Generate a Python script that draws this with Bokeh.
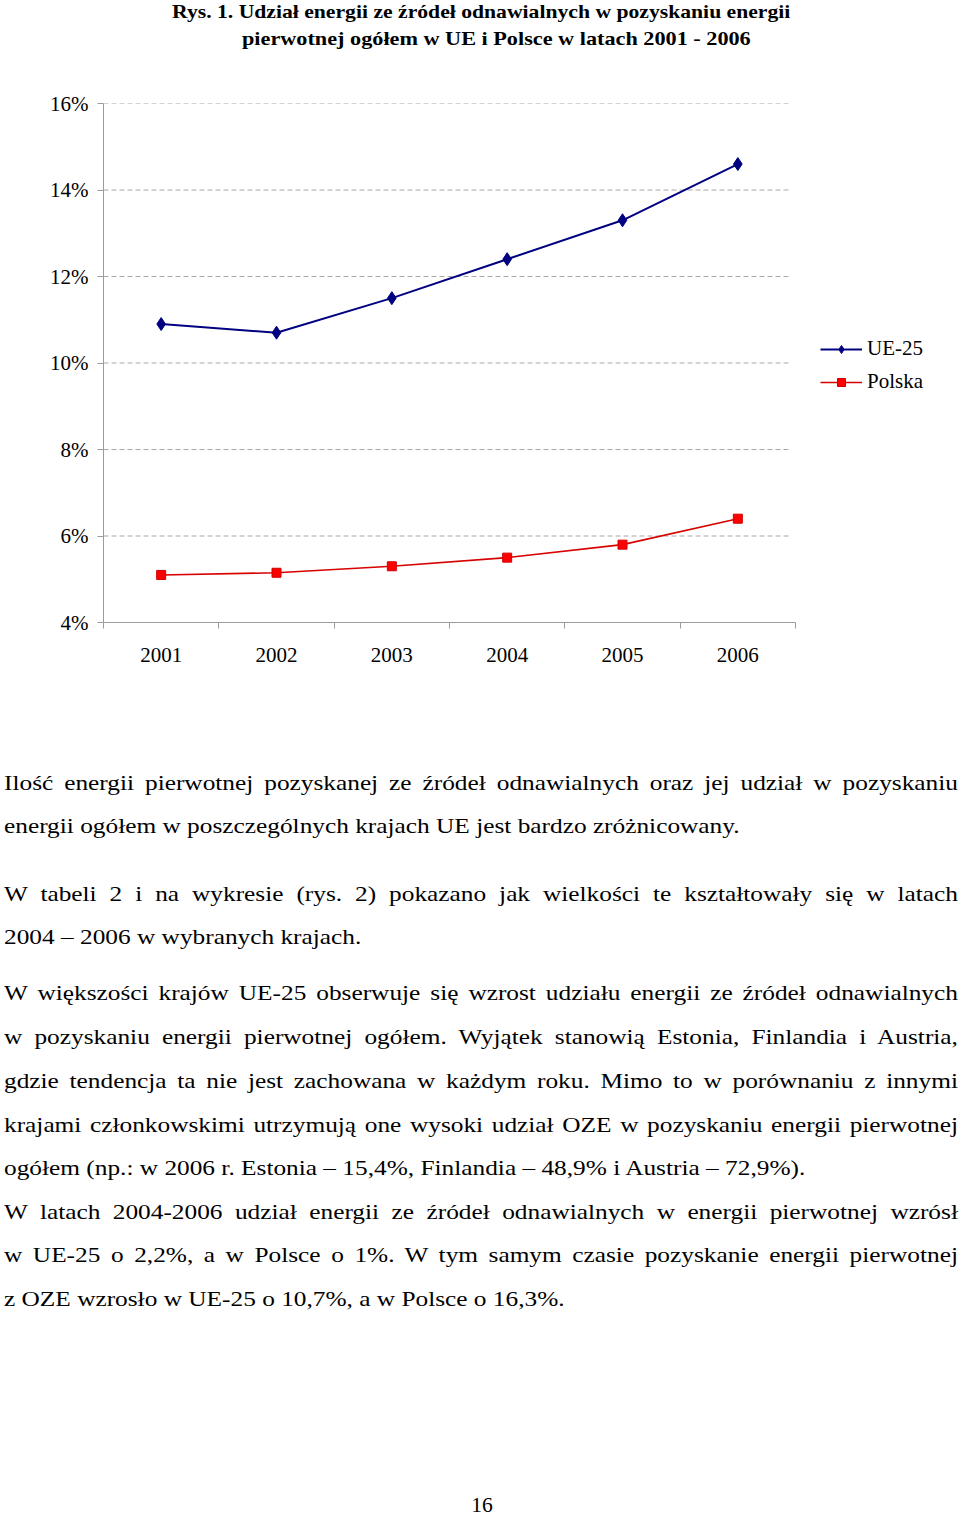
import math
from bokeh.plotting import figure
from bokeh.models import Range1d, FixedTicker, Legend, LegendItem, Div
from bokeh.layouts import column
from bokeh.embed import file_html
from bokeh.resources import INLINE

# ---------------- data ----------------
years = [2001, 2002, 2003, 2004, 2005, 2006]
year_labels = ["2001", "2002", "2003", "2004", "2005", "2006"]
ue25 = [10.9, 10.7, 11.5, 12.4, 13.3, 14.6]
polska = [5.1, 5.15, 5.3, 5.5, 5.8, 6.4]
y_ticks = [4, 6, 8, 10, 12, 14, 16]
y_tick_labels = ["4%", "6%", "8%", "10%", "12%", "14%", "16%"]
series_names = ["UE-25", "Polska"]

title_lines = [
    "Rys. 1. Udział energii ze źródeł odnawialnych w pozyskaniu energii",
    "pierwotnej ogółem w UE i Polsce w latach 2001 - 2006",
]
paragraph_lines = [
    "Ilość energii pierwotnej pozyskanej ze źródeł odnawialnych oraz jej udział w pozyskaniu",
    "energii ogółem w poszczególnych krajach UE jest bardzo zróżnicowany.",
    "W tabeli 2 i na wykresie (rys. 2) pokazano jak wielkości te kształtowały się w latach",
    "2004 – 2006 w wybranych krajach.",
    "W większości krajów UE-25 obserwuje się wzrost udziału energii ze źródeł odnawialnych",
    "w pozyskaniu energii pierwotnej ogółem. Wyjątek stanowią Estonia, Finlandia i Austria,",
    "gdzie tendencja ta nie jest zachowana w każdym roku. Mimo to w porównaniu z innymi",
    "krajami członkowskimi utrzymują one wysoki udział OZE w pozyskaniu energii pierwotnej",
    "ogółem (np.: w 2006 r. Estonia – 15,4%, Finlandia – 48,9% i Austria – 72,9%).",
    "W latach 2004-2006 udział energii ze źródeł odnawialnych w energii pierwotnej wzrósł",
    "w UE-25 o 2,2%, a w Polsce o 1%. W tym samym czasie pozyskanie energii pierwotnej",
    "z OZE wzrosło w UE-25 o 10,7%, a w Polsce o 16,3%.",
]
line_justified = [True, False, True, False, True, True, True, True, False, True, True, False]
page_number = "16"

# ---------------- layout constants ----------------
W = 960
TITLE_H = 75
FIG_H = 630
TEXT_H = 805
TEXT_TOP_PAGE = TITLE_H + FIG_H
line_baselines = [790, 833, 901, 944, 1000, 1044, 1088, 1132, 1175, 1219, 1262, 1306]
TEXT_LEFT = 4
TEXT_RIGHT = 958

SERIF = "'Liberation Serif', 'Times New Roman', serif"

# ---------------- title div ----------------
title_pos = [(172, 1, 1.14), (242, 28, 1.17)]
title_html = '<div style="position:relative;width:%dpx;height:%dpx;">' % (W, TITLE_H)
for txt, (lx, ty, sc) in zip(title_lines, title_pos):
    title_html += (
        '<div style="position:absolute;left:%dpx;top:%dpx;white-space:nowrap;'
        'font-family:%s;font-weight:bold;font-size:19px;line-height:22px;color:#000;'
        'transform:scaleX(%.3f);transform-origin:0 0;">%s</div>'
        % (lx, ty, SERIF, sc, txt)
    )
title_html += "</div>"
title_div = Div(text=title_html, width=W, height=TITLE_H, margin=(0, 0, 0, 0))

# ---------------- chart ----------------
FRAME_L, FRAME_R, FRAME_T, FRAME_B = 103, 795, 103, 622
x0 = years[0] - 0.5
x1 = years[-1] + 0.5
px_per_unit = (FRAME_R - FRAME_L) / (x1 - x0)
x_end = x0 + (W - FRAME_L) / px_per_unit   # frame extends to the canvas edge (room for legend)

p = figure(
    width=W, height=FIG_H,
    x_range=Range1d(x0, x_end),
    y_range=Range1d(y_ticks[0], y_ticks[-1]),
    output_backend="svg", toolbar_location=None, title=None,
    min_border_left=FRAME_L, min_border_right=0,
    min_border_top=FRAME_T - TITLE_H, min_border_bottom=TITLE_H + FIG_H - FRAME_B,
    outline_line_color=None, background_fill_color="white", border_fill_color="white",
    margin=(0, 0, 0, 0),
)

AX = "#9c9c9c"
xax = p.xaxis[0]
xax.ticker = FixedTicker(ticks=years, minor_ticks=[x0] + [y + 0.5 for y in years])
xax.bounds = (x0, x1)
xax.major_label_overrides = dict(zip(years, year_labels))
xax.major_tick_line_color = None
xax.major_tick_out = 6
xax.major_tick_in = 0
xax.minor_tick_out = 6
xax.minor_tick_in = 0
xax.minor_tick_line_color = AX
xax.axis_line_color = AX
xax.major_label_standoff = 19
xax.major_label_text_font = "Liberation Serif"
xax.major_label_text_font_size = "21px"
xax.major_label_text_color = "#000000"

yax = p.yaxis[0]
yax.ticker = FixedTicker(ticks=y_ticks)
yax.major_label_overrides = dict(zip(y_ticks, y_tick_labels))
yax.major_tick_out = 6
yax.major_tick_in = 0
yax.major_tick_line_color = AX
yax.minor_tick_line_color = None
yax.axis_line_color = AX
yax.major_label_standoff = 9
yax.major_label_text_font = "Liberation Serif"
yax.major_label_text_font_size = "21px"
yax.major_label_text_color = "#000000"

p.xgrid.visible = False
p.ygrid.visible = False
# horizontal dashed gridlines at the y ticks, limited to the category span
p.segment(x0=[x0] * len(y_ticks[1:]), y0=y_ticks[1:],
          x1=[x1 - 0.04] * len(y_ticks[1:]), y1=y_ticks[1:],
          line_color="#a8a8a8", line_dash="5 3", line_width=1)

ue_line = p.line(years, ue25, line_color="#000080", line_width=2)
ue_pts = p.scatter(years, ue25, marker="diamond", size=13,
                   fill_color="#000080", line_color="#000080")
pl_line = p.line(years, polska, line_color="#D80000", line_width=1.6)
pl_pts = p.scatter(years, polska, marker="square", size=9,
                   fill_color="#FF0000", line_color="#D00000")

legend = Legend(
    items=[LegendItem(label=series_names[0], renderers=[ue_line, ue_pts]),
           LegendItem(label=series_names[1], renderers=[pl_line, pl_pts])],
    location=(FRAME_R - FRAME_L + 25, 228), glyph_width=42, glyph_height=20, label_standoff=5,
    spacing=8, padding=10, margin=0, border_line_color=None, background_fill_alpha=0,
    label_text_font="Liberation Serif", label_text_font_size="21px", label_text_color="#000000",
)
p.add_layout(legend, "center")

# ---------------- text div ----------------
s_scale = 1.178
inner_w = (TEXT_RIGHT - TEXT_LEFT) / s_scale
text_html = '<div style="position:relative;width:%dpx;height:%dpx;">' % (W, TEXT_H)
for txt, base, just in zip(paragraph_lines, line_baselines, line_justified):
    top = base - 21.3 - TEXT_TOP_PAGE
    align = "text-align:justify;text-align-last:justify;" if just else "text-align:left;"
    text_html += (
        '<div style="position:absolute;left:%dpx;top:%.1fpx;width:%.1fpx;%s'
        'font-family:%s;font-size:21.5px;line-height:28px;color:#000;'
        'transform:scaleX(%.3f);transform-origin:0 0;">%s</div>'
        % (TEXT_LEFT, top, inner_w, align, SERIF, s_scale, txt)
    )
pn_top = 1512 - 17.3 - TEXT_TOP_PAGE
text_html += (
    '<div style="position:absolute;left:0;top:%.1fpx;width:%dpx;text-align:center;'
    'font-family:%s;font-size:21.5px;line-height:20px;color:#000;">'
    '<span style="padding-left:4px;">%s</span></div>'
    % (pn_top, W, SERIF, page_number)
)
text_html += "</div>"
text_div = Div(text=text_html, width=W, height=TEXT_H, margin=(0, 0, 0, 0))

layout = column(title_div, p, text_div, spacing=0)
open("out.html", "w").write(file_html(layout, INLINE))
